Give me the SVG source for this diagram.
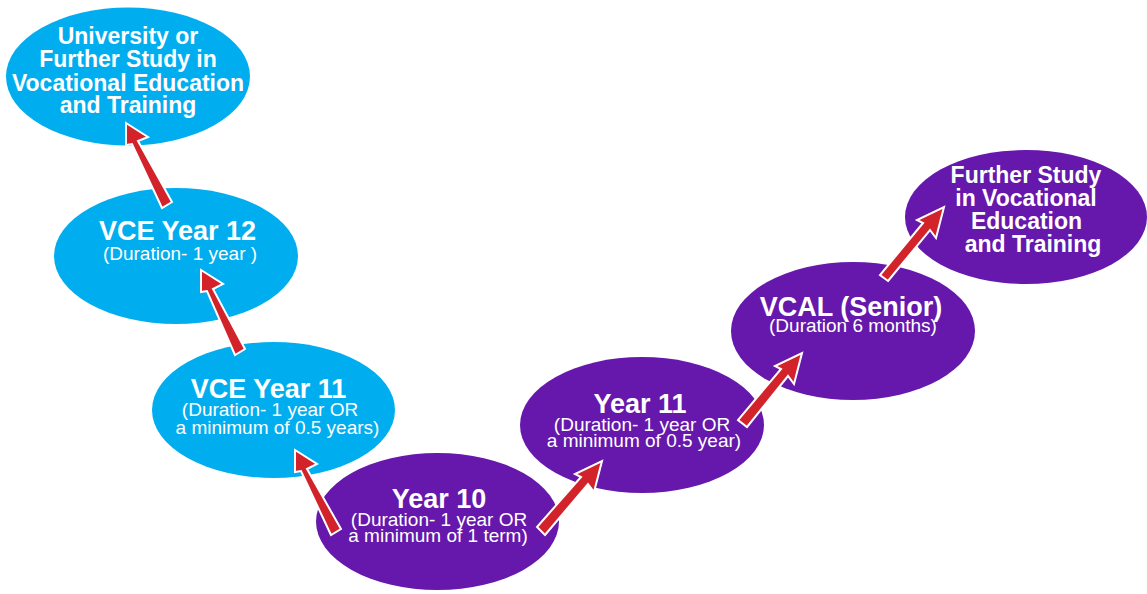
<svg xmlns="http://www.w3.org/2000/svg" width="1147" height="594" viewBox="0 0 1147 594">
<defs>
<style>
.blue{fill:#00AEEF}
.purple{fill:#6518AB}
.t{font-family:"Liberation Sans",Arial,Helvetica,sans-serif;fill:#fff;text-anchor:middle}
.h{font-weight:bold;font-size:27px}
.b{font-weight:bold;font-size:23px}
.s{font-size:19px}
.arr{fill:#D2232A;stroke:#fff;stroke-width:2;stroke-linejoin:miter}
</style>
<polygon id="ah" points="0,-5.5 -15,-3 -21,-11.5 0,0 -21,11.5 -15,3 0,5.5"/>
</defs>
<rect width="1147" height="594" fill="#fff"/>

<g id="uni">
<ellipse class="blue" cx="128" cy="76.5" rx="122" ry="69"/>
<text class="t b" x="128" y="44">University or</text>
<text class="t b" x="128" y="67">Further Study in</text>
<text class="t b" x="128" y="91">Vocational Education</text>
<text class="t b" x="128" y="113">and Training</text>
</g>

<g id="vce12">
<ellipse class="blue" cx="176" cy="256" rx="122" ry="68"/>
<text class="t h" x="177.5" y="240">VCE Year 12</text>
<text class="t s" x="180" y="260">(Duration- 1 year )</text>
</g>

<g id="vce11">
<ellipse class="blue" cx="273.5" cy="410" rx="121.5" ry="68"/>
<text class="t h" x="268.5" y="398">VCE Year 11</text>
<text class="t s" x="270" y="416">(Duration- 1 year OR</text>
<text class="t s" x="277.5" y="434">a minimum of 0.5 years)</text>
</g>

<g id="year10">
<ellipse class="purple" cx="437.5" cy="521.5" rx="121.5" ry="68.5"/>
<text class="t h" x="439" y="508">Year 10</text>
<text class="t s" x="439" y="526">(Duration- 1 year OR</text>
<text class="t s" x="438" y="542">a minimum of 1 term)</text>
</g>

<g id="year11">
<ellipse class="purple" cx="642" cy="425" rx="122" ry="68"/>
<text class="t h" x="640" y="413">Year 11</text>
<text class="t s" x="642" y="431">(Duration- 1 year OR</text>
<text class="t s" x="644" y="447">a minimum of 0.5 year)</text>
</g>

<g id="vcal">
<ellipse class="purple" cx="853" cy="331" rx="122" ry="69"/>
<text class="t h" x="851" y="316">VCAL (Senior)</text>
<text class="t s" x="853" y="332">(Duration 6 months)</text>
</g>

<g id="further">
<ellipse class="purple" cx="1026" cy="217" rx="121" ry="67"/>
<text class="t b" x="1026" y="183">Further Study</text>
<text class="t b" x="1026" y="206">in Vocational</text>
<text class="t b" x="1026.5" y="229">Education</text>
<text class="t b" x="1033" y="252">and Training</text>
</g>

<g id="connectors">
<polygon class="arr" points="172,202 138,141 148,137 126,123 126,145 132,144 162,208"/>
<polygon class="arr" points="245,349 213,289 223,284 201,270 201,292 207,291 235,355"/>
<polygon class="arr" points="341,529 307,469 317,464 295,450 295,472 301,471 331,535"/>
<polygon class="arr" points="545,535 588,484 594,492 602,461 575,474 581,477 537,527"/>
<polygon class="arr" points="747,427 788,376 794,384 802,353 775,366 781,369 738,420"/>
<polygon class="arr" points="888,281 930,230 936,238 944,207 917,220 923,223 880,275"/>
</g>
</svg>
